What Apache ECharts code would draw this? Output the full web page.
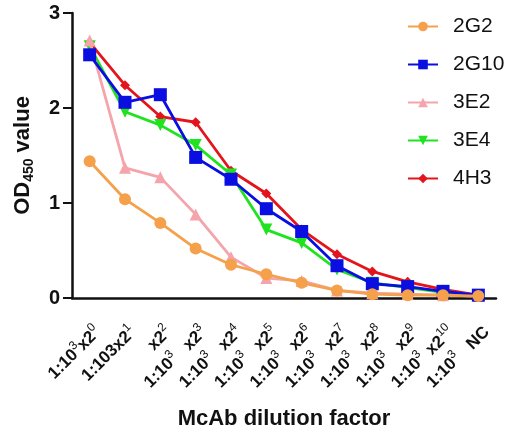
<!DOCTYPE html>
<html>
<head>
<meta charset="utf-8">
<script src="https://cdn.jsdelivr.net/npm/echarts@6/dist/echarts.min.js"></script>
<style>
  html, body { margin: 0; padding: 0; background: #fff; }
  #main { width: 509px; height: 432px; }
</style>
</head>
<body>
<div id="main"></div>
<script>
// dilution steps, x label pieces
var categories = ['0', '1', '2', '3', '4', '5', '6', '7', '8', '9', '10', 'NC'];
var seriesNames = ['2G2', '2G10', '3E2', '3E4', '4H3'];

var v2G2  = [1.44, 1.04, 0.79, 0.52, 0.35, 0.25, 0.16, 0.08, 0.04, 0.03, 0.03, 0.02];
var v2G10 = [2.56, 2.06, 2.14, 1.48, 1.25, 0.94, 0.70, 0.34, 0.15, 0.12, 0.07, 0.03];
var v3E2  = [2.71, 1.37, 1.27, 0.88, 0.43, 0.21, 0.18, 0.08, 0.05, 0.04, 0.03, 0.02];
var v3E4  = [2.65, 1.96, 1.82, 1.61, 1.30, 0.72, 0.58, 0.30, 0.16, 0.11, 0.06, 0.03];
var v4H3  = [2.69, 2.24, 1.91, 1.85, 1.34, 1.10, 0.72, 0.46, 0.28, 0.17, 0.09, 0.03];

var yTicks = [0, 1, 2, 3];

var colors = ['#f5a04a', '#0a0ee0', '#f4a4aa', '#1ee31e', '#e3141b'];
var symbols = ['circle', 'rect', 'triangle', 'triangle', 'diamond'];
var symSizes = [12, 13, 12, 12, 10];
var symRot = [0, 0, 0, 180, 0];
var allValues = [v2G2, v2G10, v3E2, v3E4, v4H3];

var chart = echarts.init(document.getElementById('main'));

// rotated labels, most of them wrap: "x2^n" above "1:10^3"
function fmtLabel(v) {
  if (v === 'NC') return '{b|NC}\n{a| }';
  if (v === '0') return '{b|1:10}{sup|3}{b|x2}{sup|0}\n{a| }';
  if (v === '1') return '{b|1:103x2}{sup|1}\n{a| }';
  return '{b|x2}{sup|' + v + '}\n{a|1:10}{supr|3}';
}

var series = [];
for (var i = 0; i < seriesNames.length; i++) {
  series.push({
    name: seriesNames[i],
    type: 'line',
    data: allValues[i],
    z: 10 - i,
    symbol: symbols[i],
    symbolSize: symSizes[i],
    symbolRotate: symRot[i],
    lineStyle: { color: colors[i], width: 2.8 },
    itemStyle: { color: colors[i] }
  });
}

chart.setOption({
  animation: false,
  textStyle: { fontFamily: 'Liberation Sans, Arial, sans-serif' },
  grid: { left: 72, right: 13, top: 13, bottom: 134, outerBoundsMode: 'none' },
  legend: {
    data: seriesNames,
    orient: 'vertical',
    left: 402,
    top: 11,
    itemWidth: 30,
    itemHeight: 12,
    itemGap: 17,
    textStyle: { fontSize: 21, color: '#111', padding: [0, 0, 0, 10] }
  },
  xAxis: {
    type: 'category',
    data: categories,
    name: 'McAb dilution factor',
    nameLocation: 'middle',
    nameGap: 95,
    nameTextStyle: { fontSize: 22, fontWeight: 'bold', color: '#111' },
    axisLine: { lineStyle: { color: '#111', width: 2.5 } },
    axisTick: { alignWithLabel: true, length: 7, lineStyle: { color: '#111', width: 2 } },
    axisLabel: {
      interval: 0,
      rotate: 45,
      margin: 23,
      verticalAlign: 'top',
      formatter: fmtLabel,
      rich: {
        a: { fontSize: 17, fontWeight: 'bold', color: '#111', lineHeight: 24 },
        b: { fontSize: 17, fontWeight: 'bold', color: '#111', lineHeight: 24 },
        sup: { fontSize: 12, color: '#111', lineHeight: 24, verticalAlign: 'top' },
        supr: { fontSize: 12, color: '#111', lineHeight: 24, verticalAlign: 'top', padding: [0, 14, 0, 0] }
      }
    }
  },
  yAxis: {
    type: 'value',
    min: 0,
    max: 3,
    interval: 1,
    name: 'OD{sub|450} value',
    nameLocation: 'middle',
    nameGap: 36,
    nameTextStyle: {
      fontSize: 22, fontWeight: 'bold', color: '#111',
      rich: { sub: { fontSize: 14, fontWeight: 'bold', color: '#111', verticalAlign: 'bottom', lineHeight: 27 } }
    },
    splitLine: { show: false },
    axisLine: { show: true, lineStyle: { color: '#111', width: 2.5 } },
    axisTick: { show: true, length: 9, lineStyle: { color: '#111', width: 2 } },
    axisLabel: {
      fontSize: 20, fontWeight: 'bold', color: '#111', margin: 12,
      formatter: function (v) { return yTicks.indexOf(v) >= 0 ? String(v) : ''; }
    }
  },
  series: series
});
</script>
</body>
</html>
